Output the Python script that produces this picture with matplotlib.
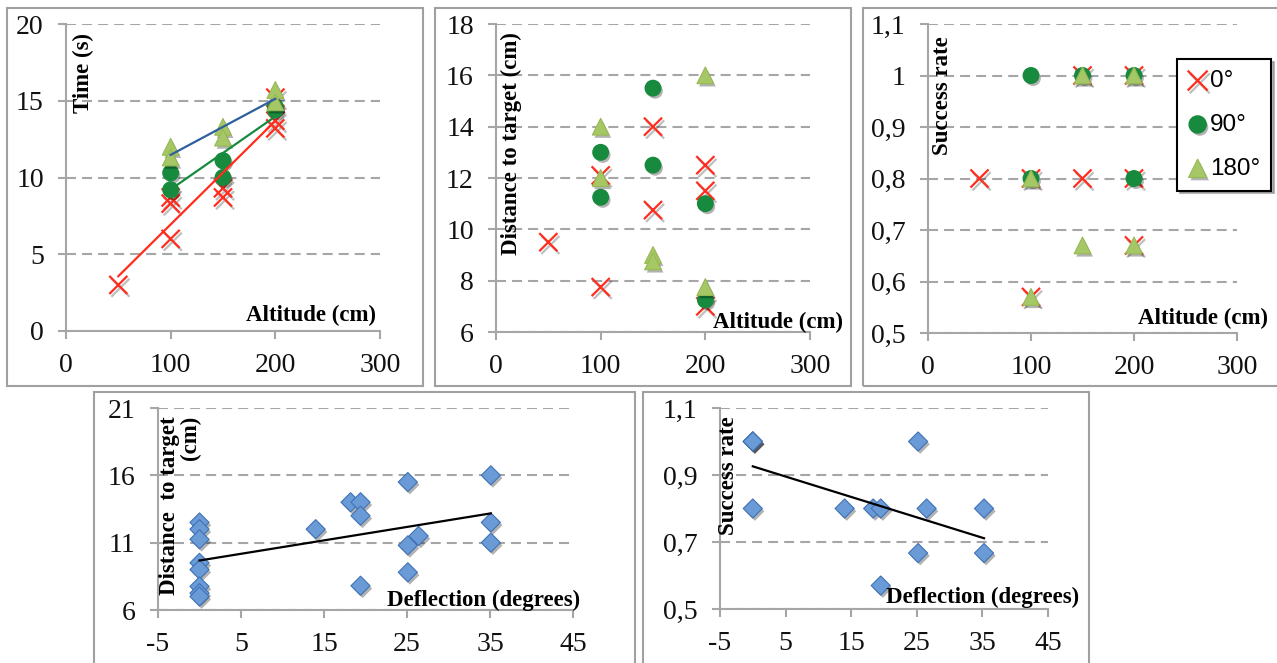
import numpy as np
import matplotlib.pyplot as plt
from matplotlib import patheffects as pe
from matplotlib.patches import Rectangle

plt.rcParams['font.family'] = ['Liberation Serif', 'DejaVu Serif']
plt.rcParams['axes.unicode_minus'] = False

# --- data ---
# Time vs altitude
alt_0_time = [50, 100, 100, 100, 150, 150, 200, 200, 200]
time_0 = [3.0, 6.0, 8.3, 8.7, 8.7, 9.3, 13.2, 13.7, 15.2]
alt_90 = [100, 100, 150, 150, 200, 200]
time_90 = [10.3, 9.2, 11.1, 10.0, 14.4, 14.6]
alt_180 = [100, 100, 150, 150, 200, 200]
time_180 = [12.0, 11.3, 13.3, 12.6, 15.7, 14.9]

# Distance to target vs altitude
alt_0_dist = [50, 100, 100, 150, 150, 200, 200, 200]
dist_0 = [9.5, 12.1, 7.75, 14.0, 10.75, 12.5, 11.5, 7.0]
dist_90 = [13.0, 11.25, 15.5, 12.5, 11.0, 7.25]
dist_180 = [14.0, 12.0, 9.0, 8.75, 16.0, 7.75]

# Success rate vs altitude
alt_0_succ = [50, 100, 100, 150, 150, 200, 200, 200]
succ_0 = [0.8, 0.8, 0.57, 1.0, 0.8, 1.0, 0.8, 0.67]
alt_90_succ = [100, 100, 150, 200, 200]
succ_90 = [1.0, 0.8, 1.0, 1.0, 0.8]
alt_180_succ = [100, 100, 150, 150, 200, 200]
succ_180 = [0.8, 0.57, 1.0, 0.67, 1.0, 0.67]

# Deflection plots
defl_d = [0, 0, 0, 0, 0, 0, 0, 0, 14, 18.2, 19.4, 19.4, 19.4,
          25.1, 25.1, 25.1, 26.4, 35.1, 35.1, 35.1]
dist_d = [12.5, 12.0, 11.25, 9.5, 9.0, 7.75, 7.25, 7.0, 12.0, 14.0, 14.0, 13.0, 7.8,
          15.5, 10.8, 8.8, 11.5, 16.0, 12.5, 11.0]
defl_s = [0, 0, 0, 0, 14, 18.35, 19.5, 19.5, 25.2, 25.2, 26.5, 35.25, 35.25]
succ_s = [1.0, 1.0, 1.0, 0.8, 0.8, 0.8, 0.8, 0.57, 1.0, 0.667, 0.8, 0.8, 0.667]

alt_ticks = [0, 100, 200, 300]
defl_ticks = [-5, 5, 15, 25, 35, 45]
succ_ticks = [0.5, 0.6, 0.7, 0.8, 0.9, 1.0, 1.1]
succ_labels = ['0,5', '0,6', '0,7', '0,8', '0,9', '1', '1,1']
succ2_ticks = [0.5, 0.7, 0.9, 1.1]
succ2_labels = ['0,5', '0,7', '0,9', '1,1']

RED = '#ff2d1e'
DKGREEN = '#178a3e'
LTGREEN = '#a6c765'
BLUE = '#6b9bd6'
GRAY = '#a6a6a6'

W, H = 1277, 663
fig = plt.figure(figsize=(W / 100, H / 100), dpi=100)


def add_ax(l, t, r, b):
    return fig.add_axes([l / W, 1 - b / H, (r - l) / W, (b - t) / H])


def frame(l, t, r, b):
    fig.add_artist(Rectangle((l / W, 1 - b / H), (r - l) / W, (b - t) / H,
                             transform=fig.transFigure, fill=False,
                             edgecolor='#a0a0a0', lw=1.5))


def style(ax):
    for s in ['top', 'right']:
        ax.spines[s].set_visible(False)
    for s in ['left', 'bottom']:
        ax.spines[s].set_color(GRAY)
        ax.spines[s].set_linewidth(1.5)
    ax.tick_params(direction='out', length=6, width=1.5, color=GRAY,
                   labelsize=20, pad=10, labelcolor='#111111')
    ax.yaxis.grid(True, color=GRAY, lw=1.5, ls=(0, (4.8, 2.9)))
    ax.set_axisbelow(True)


def ftext(x, y, s, **kw):
    fig.text(x / W, 1 - y / H, s, fontweight='bold', **kw)


shadow_fill = [pe.SimplePatchShadow(offset=(1.5, -2), shadow_rgbFace='k', alpha=0.3), pe.Normal()]
shadow_line = [pe.SimpleLineShadow(offset=(1.5, -2), shadow_color='k', alpha=0.25), pe.Normal()]


def three_series(ax, xs0, ys0, xs1, ys1, xs2, ys2, labels=False):
    ax.scatter(xs0, ys0, marker='x', s=170, color=RED, linewidths=1.6, zorder=3,
               path_effects=shadow_line, label='0°' if labels else None)
    ax.scatter(xs1, ys1, marker='o', s=125, color=DKGREEN, zorder=4,
               path_effects=shadow_fill, label='90°' if labels else None)
    ax.scatter(xs2, ys2, marker='^', s=145, facecolor=LTGREEN, edgecolor='#97b955',
               linewidths=0.8, zorder=5, path_effects=shadow_fill,
               label='180°' if labels else None)


def trend(ax, xs, ys, color):
    xs = np.asarray(xs, float)
    k, b = np.polyfit(xs, ys, 1)
    xx = np.array([xs.min(), xs.max()])
    ax.plot(xx, k * xx + b, color=color, lw=1.6, zorder=6)


# frames
frame(7, 8, 423, 386)
frame(435, 8, 851, 386)
frame(863, 8, 1280, 386)
frame(94, 392, 635, 680)
frame(643, 392, 1089, 680)

# panel 1: time
ax1 = add_ax(66, 24, 380, 331)
style(ax1)
three_series(ax1, alt_0_time, time_0, alt_90, time_90, alt_180, time_180)
trend(ax1, alt_0_time, time_0, RED)
trend(ax1, alt_90, time_90, DKGREEN)
trend(ax1, alt_180, time_180, '#2f5f9e')
ax1.set_xlim(0, 300)
ax1.set_ylim(0, 20)
ax1.set_xticks(alt_ticks)
ax1.set_yticks([0, 5, 10, 15, 20])
ftext(83, 73, 'Time (s)', rotation=90, ha='center', va='center', fontsize=16.5)
ftext(376, 315, 'Altitude (cm)', ha='right', va='center', fontsize=16.5)

# panel 2: distance
ax2 = add_ax(496, 24, 810, 332)
style(ax2)
three_series(ax2, alt_0_dist, dist_0, alt_90, dist_90, alt_180, dist_180)
ax2.set_xlim(0, 300)
ax2.set_ylim(6, 18)
ax2.set_xticks(alt_ticks)
ax2.set_yticks([6, 8, 10, 12, 14, 16, 18])
ftext(511, 144, 'Distance to target (cm)', rotation=90, ha='center', va='center', fontsize=16.5)
ftext(843, 322, 'Altitude (cm)', ha='right', va='center', fontsize=16.5)

# panel 3: success rate
ax3 = add_ax(928, 24, 1237, 333)
style(ax3)
three_series(ax3, alt_0_succ, succ_0, alt_90_succ, succ_90, alt_180_succ, succ_180, labels=True)
ax3.set_xlim(0, 300)
ax3.set_ylim(0.5, 1.1)
ax3.set_xticks(alt_ticks)
ax3.set_yticks(succ_ticks)
ax3.set_yticklabels(succ_labels)
ftext(942, 96, 'Success rate', rotation=90, ha='center', va='center', fontsize=16.5)
ftext(1268, 318, 'Altitude (cm)', ha='right', va='center', fontsize=16.5)
leg = ax3.legend(loc='upper left', bbox_to_anchor=(1177 / W, 1 - 59 / H),
                 bbox_transform=fig.transFigure, borderaxespad=0,
                 prop={'family': 'Liberation Sans', 'size': 17.5},
                 handlelength=0.8, handletextpad=0.1, labelspacing=0.9,
                 borderpad=0.45, fancybox=False, edgecolor='black', markerscale=1.1,
                 shadow={'color': '#888888', 'alpha': 0.6})
leg.get_frame().set_linewidth(1.5)
leg.set_zorder(10)

# panel 4: distance vs deflection
ax4 = add_ax(158, 408, 573, 610)
style(ax4)
ax4.scatter(defl_d, dist_d, marker='D', s=95, facecolor=BLUE, edgecolor='#3f72b5',
            linewidths=0.8, zorder=4, path_effects=shadow_fill)
trend(ax4, defl_d, dist_d, 'black')
ax4.set_xlim(-5, 45)
ax4.set_ylim(6, 21)
ax4.set_xticks(defl_ticks)
ax4.set_yticks([6, 11, 16, 21])
ftext(159, 416, 'Distance  to target\n(cm)', rotation=90, ha='left', va='top',
      multialignment='right', fontsize=16.5, linespacing=1.0)
ftext(580, 600, 'Deflection (degrees)', ha='right', va='center', fontsize=16.5)

# panel 5: success rate vs deflection
ax5 = add_ax(720, 408, 1048, 609)
style(ax5)
ax5.scatter(defl_s, succ_s, marker='D', s=95, facecolor=BLUE, edgecolor='#3f72b5',
            linewidths=0.8, zorder=4, path_effects=shadow_fill)
trend(ax5, defl_s, succ_s, 'black')
ax5.set_xlim(-5, 45)
ax5.set_ylim(0.5, 1.1)
ax5.set_xticks(defl_ticks)
ax5.set_yticks(succ2_ticks)
ax5.set_yticklabels(succ2_labels)
ftext(728, 476, 'Success rate', rotation=90, ha='center', va='center', fontsize=16.5)
ftext(1079, 597, 'Deflection (degrees)', ha='right', va='center', fontsize=16.5)

plt.savefig('out.png', dpi=100)
